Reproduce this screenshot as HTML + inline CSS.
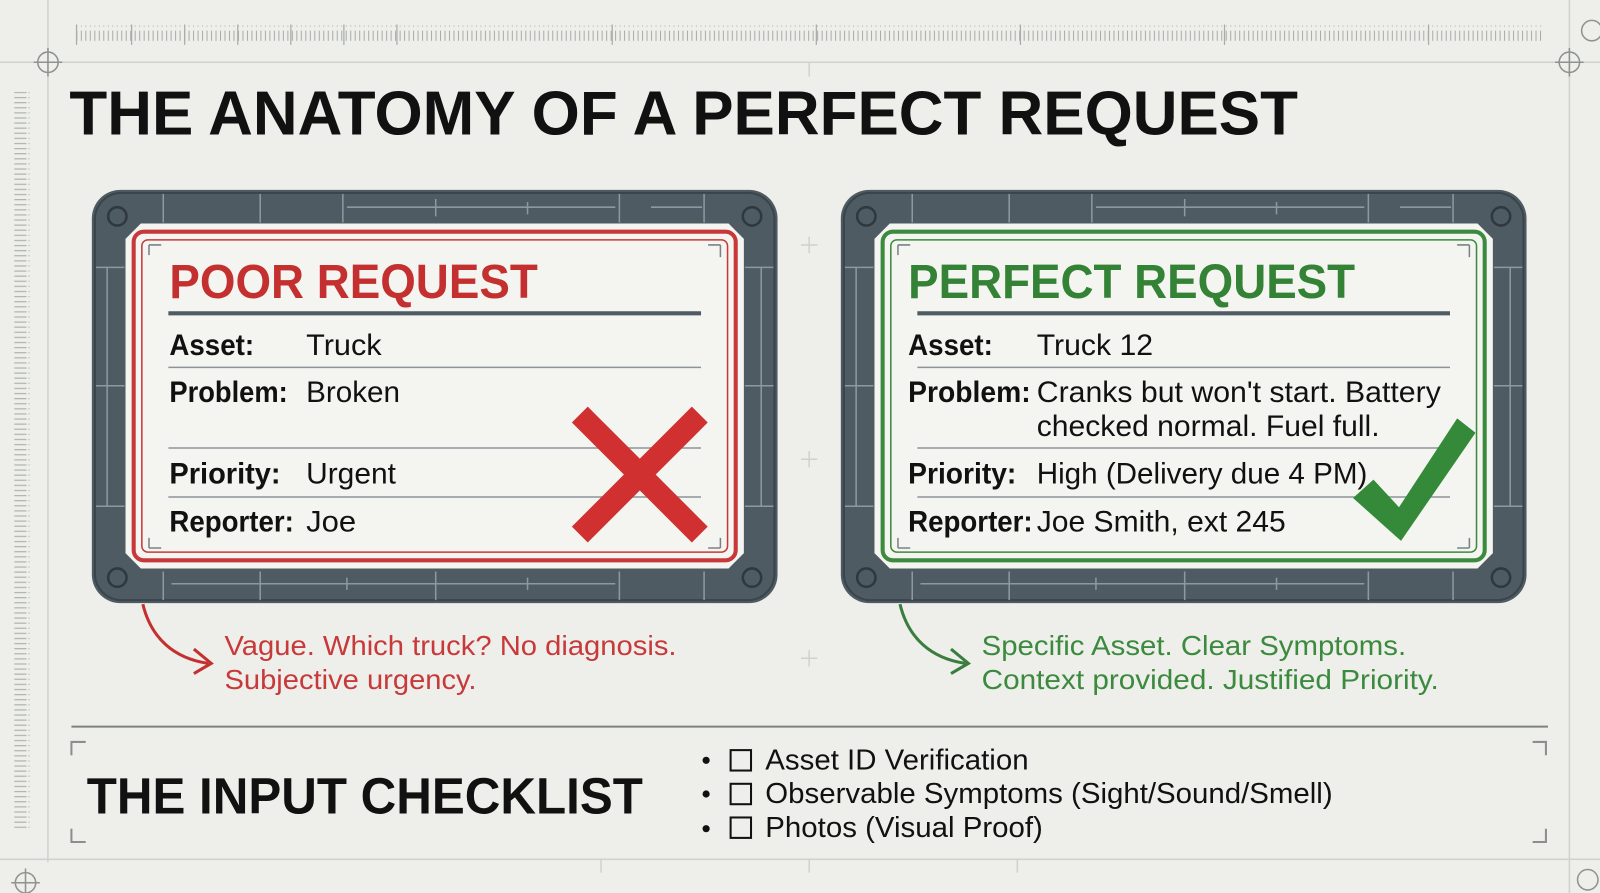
<!DOCTYPE html>
<html><head><meta charset="utf-8"><style>
html,body{margin:0;padding:0;background:#eeeeea;}
svg{display:block;}
text{font-family:"Liberation Sans",sans-serif;}
</style></head><body>
<svg width="1600" height="893" viewBox="0 0 1568 875" preserveAspectRatio="none" xmlns="http://www.w3.org/2000/svg">
<defs>
<pattern id="tk" width="4.4" height="14" patternUnits="userSpaceOnUse"><rect x="0" y="2" width="1" height="10" fill="#a8aca8"/></pattern>
<pattern id="tkv" width="14" height="5" patternUnits="userSpaceOnUse"><rect x="0" y="0" width="12" height="1.2" fill="#b0b4b0"/></pattern>
<g id="frame">
<rect x="90" y="186" width="672" height="405" rx="28" fill="#4f5b63"/>
<rect x="93" y="189" width="666" height="399" rx="26" fill="none" stroke="#3a444b" stroke-width="2"/>
<g stroke="#8d99a1" stroke-width="1.5" fill="none">
<line x1="160" y1="190" x2="160" y2="218"/><line x1="255" y1="190" x2="255" y2="218"/><line x1="336" y1="190" x2="336" y2="218"/><line x1="427" y1="195" x2="427" y2="212"/><line x1="517" y1="198" x2="517" y2="210"/><line x1="607" y1="190" x2="607" y2="218"/><line x1="690" y1="190" x2="690" y2="218"/>
<line x1="340" y1="203" x2="603" y2="203"/><line x1="638" y1="203" x2="688" y2="203"/>
<line x1="160" y1="560" x2="160" y2="588"/><line x1="255" y1="560" x2="255" y2="588"/><line x1="427" y1="560" x2="427" y2="588"/><line x1="607" y1="560" x2="607" y2="588"/><line x1="690" y1="560" x2="690" y2="588"/>
<line x1="168" y1="572" x2="603" y2="572"/><line x1="340" y1="566" x2="340" y2="578"/><line x1="517" y1="566" x2="517" y2="578"/>
<line x1="105" y1="262" x2="105" y2="496"/><line x1="746" y1="262" x2="746" y2="496"/>
<line x1="94" y1="262" x2="122" y2="262"/><line x1="94" y1="378" x2="122" y2="378"/><line x1="94" y1="496" x2="122" y2="496"/>
<line x1="730" y1="262" x2="758" y2="262"/><line x1="730" y1="378" x2="758" y2="378"/><line x1="730" y1="496" x2="758" y2="496"/>
</g>
<g stroke="#2f383f" stroke-width="2.5" fill="none">
<circle cx="115" cy="212" r="9"/><circle cx="737" cy="212" r="9"/><circle cx="115" cy="566" r="9"/><circle cx="737" cy="566" r="9"/>
</g>
<path d="M138 219 H714 L729 234 V542 L714 557 H138 L123 542 V234 Z" fill="#f4f4f0"/>
<path d="M146 240 V250 M146 240 H158 M706 240 H694 M706 240 V252 M146 537 V527 M146 537 H158 M706 537 H694 M706 537 V527" stroke="#7a8288" stroke-width="1.5" fill="none"/>
<line x1="165" y1="307" x2="687" y2="307" stroke="#4f5b63" stroke-width="4"/>
<g stroke="#8b9399" stroke-width="1.5"><line x1="165" y1="360" x2="687" y2="360"/><line x1="165" y1="439" x2="687" y2="439"/><line x1="165" y1="487" x2="687" y2="487"/></g>
</g>
</defs>

<!-- background guides -->
<rect x="75" y="25" width="1436" height="16" fill="url(#tk)"/>
<g stroke="#a8aca8" stroke-width="1.2">
<line x1="75" y1="24" x2="75" y2="44"/><line x1="129" y1="24" x2="129" y2="44"/><line x1="181" y1="24" x2="181" y2="44"/><line x1="233" y1="24" x2="233" y2="44"/><line x1="285" y1="24" x2="285" y2="44"/><line x1="337" y1="24" x2="337" y2="44"/><line x1="389" y1="24" x2="389" y2="44"/><line x1="600" y1="24" x2="600" y2="44"/><line x1="800" y1="24" x2="800" y2="44"/><line x1="1000" y1="24" x2="1000" y2="44"/><line x1="1200" y1="24" x2="1200" y2="44"/><line x1="1400" y1="24" x2="1400" y2="44"/>
</g>
<rect x="13" y="90" width="16" height="722" fill="url(#tkv)"/>
<g stroke="#cfd2ce" stroke-width="1.5" fill="none">
<line x1="0" y1="61" x2="1568" y2="61"/>
<line x1="47" y1="0" x2="47" y2="845"/>
<line x1="1538" y1="0" x2="1538" y2="875"/>
<line x1="0" y1="842" x2="1568" y2="842"/>
<line x1="793" y1="61" x2="793" y2="75"/><line x1="589" y1="842" x2="589" y2="855"/><line x1="793" y1="842" x2="793" y2="855"/><line x1="997" y1="842" x2="997" y2="855"/>
<line x1="785" y1="240" x2="801" y2="240"/><line x1="793" y1="232" x2="793" y2="248"/>
<line x1="785" y1="450" x2="801" y2="450"/><line x1="793" y1="442" x2="793" y2="458"/>
<line x1="785" y1="645" x2="801" y2="645"/><line x1="793" y1="637" x2="793" y2="653"/>
</g>
<g stroke="#8f938f" stroke-width="1.5" fill="none">
<circle cx="47" cy="61" r="10"/><line x1="33" y1="61" x2="61" y2="61"/><line x1="47" y1="47" x2="47" y2="75"/>
<circle cx="1538" cy="61" r="10"/><line x1="1524" y1="61" x2="1552" y2="61"/><line x1="1538" y1="47" x2="1538" y2="75"/>
<circle cx="25" cy="865" r="10"/><line x1="11" y1="865" x2="39" y2="865"/><line x1="25" y1="851" x2="25" y2="875"/>
<circle cx="1560" cy="30" r="10"/><circle cx="1556" cy="862" r="10"/>
</g>

<text x="68" y="132" font-size="61" font-weight="bold" fill="#111" textLength="1204" lengthAdjust="spacingAndGlyphs">THE ANATOMY OF A PERFECT REQUEST</text>

<!-- left card -->
<use href="#frame"/>
<rect x="131" y="227" width="590" height="322" rx="10" fill="none" stroke="#c8383a" stroke-width="4"/>
<rect x="139" y="235" width="574" height="306" rx="6" fill="none" stroke="#c8383a" stroke-width="1.5"/>
<text x="166" y="292" font-size="47" font-weight="bold" fill="#c3302f" textLength="361" lengthAdjust="spacingAndGlyphs">POOR REQUEST</text>
<g font-size="29" fill="#111">
<text x="166" y="348" font-weight="bold" textLength="83" lengthAdjust="spacingAndGlyphs">Asset:</text>
<text x="300" y="348" textLength="74" lengthAdjust="spacingAndGlyphs">Truck</text>
<text x="166" y="394" font-weight="bold" textLength="116" lengthAdjust="spacingAndGlyphs">Problem:</text>
<text x="300" y="394" textLength="92" lengthAdjust="spacingAndGlyphs">Broken</text>
<text x="166" y="474" font-weight="bold" textLength="109" lengthAdjust="spacingAndGlyphs">Priority:</text>
<text x="300" y="474" textLength="88" lengthAdjust="spacingAndGlyphs">Urgent</text>
<text x="166" y="521" font-weight="bold" textLength="122" lengthAdjust="spacingAndGlyphs">Reporter:</text>
<text x="300" y="521" textLength="49" lengthAdjust="spacingAndGlyphs">Joe</text>
</g>
<g stroke="#d0302f" stroke-width="22" stroke-linecap="square">
<line x1="576" y1="414" x2="678" y2="516"/><line x1="678" y1="414" x2="576" y2="516"/>
</g>

<!-- right card -->
<g transform="translate(734,0)"><use href="#frame"/></g>
<rect x="865" y="227" width="590" height="322" rx="10" fill="none" stroke="#3b8a3e" stroke-width="4"/>
<rect x="873" y="235" width="574" height="306" rx="6" fill="none" stroke="#3b8a3e" stroke-width="1.5"/>
<text x="890" y="292" font-size="47" font-weight="bold" fill="#338236" textLength="438" lengthAdjust="spacingAndGlyphs">PERFECT REQUEST</text>
<g font-size="29" fill="#111">
<text x="890" y="348" font-weight="bold" textLength="83" lengthAdjust="spacingAndGlyphs">Asset:</text>
<text x="1016" y="348" textLength="114" lengthAdjust="spacingAndGlyphs">Truck 12</text>
<text x="890" y="394" font-weight="bold" textLength="120" lengthAdjust="spacingAndGlyphs">Problem:</text>
<text x="1016" y="394" textLength="396" lengthAdjust="spacingAndGlyphs">Cranks but won't start. Battery</text>
<text x="1016" y="427" textLength="336" lengthAdjust="spacingAndGlyphs">checked normal. Fuel full.</text>
<text x="890" y="474" font-weight="bold" textLength="106" lengthAdjust="spacingAndGlyphs">Priority:</text>
<text x="1016" y="474" textLength="324" lengthAdjust="spacingAndGlyphs">High (Delivery due 4 PM)</text>
<text x="890" y="521" font-weight="bold" textLength="122" lengthAdjust="spacingAndGlyphs">Reporter:</text>
<text x="1016" y="521" textLength="244" lengthAdjust="spacingAndGlyphs">Joe Smith, ext 245</text>
</g>
<path d="M1326 488 L1346 470 L1371 497 L1428 410 L1446 424 L1373 530 Z" fill="#348a38"/>

<!-- annotations -->
<path d="M140 592 C148 625 170 645 204 650" stroke="#c3302f" stroke-width="3" fill="none"/>
<path d="M190 636 L207 650 L190 660" stroke="#c3302f" stroke-width="3" fill="none"/>
<text x="220" y="642" font-size="27" fill="#c8393a" textLength="443" lengthAdjust="spacingAndGlyphs">Vague. Which truck? No diagnosis.</text>
<text x="220" y="675" font-size="27" fill="#c8393a" textLength="247" lengthAdjust="spacingAndGlyphs">Subjective urgency.</text>
<path d="M882 592 C890 625 912 645 946 650" stroke="#3b7d3e" stroke-width="3" fill="none"/>
<path d="M932 636 L949 650 L932 660" stroke="#3b7d3e" stroke-width="3" fill="none"/>
<text x="962" y="642" font-size="27" fill="#3b8a3e" textLength="416" lengthAdjust="spacingAndGlyphs">Specific Asset. Clear Symptoms.</text>
<text x="962" y="675" font-size="27" fill="#3b8a3e" textLength="448" lengthAdjust="spacingAndGlyphs">Context provided. Justified Priority.</text>

<!-- checklist -->
<line x1="70" y1="712" x2="1517" y2="712" stroke="#7d8480" stroke-width="2"/>
<path d="M70 740 V727 H84 M1502 727 H1515 V740 M70 812 V825 H84 M1502 825 H1515 V812" stroke="#8a8f8b" stroke-width="2" fill="none"/>
<text x="85" y="797" font-size="50" font-weight="bold" fill="#111" textLength="545" lengthAdjust="spacingAndGlyphs">THE INPUT CHECKLIST</text>
<g fill="#111"><circle cx="692" cy="745" r="3.5"/><circle cx="692" cy="778" r="3.5"/><circle cx="692" cy="812" r="3.5"/></g>
<g fill="none" stroke="#111" stroke-width="2"><rect x="716" y="735" width="20" height="20"/><rect x="716" y="768" width="20" height="20"/><rect x="716" y="801" width="20" height="20"/></g>
<g font-size="28" fill="#111">
<text x="750" y="754" textLength="258" lengthAdjust="spacingAndGlyphs">Asset ID Verification</text>
<text x="750" y="787" textLength="556" lengthAdjust="spacingAndGlyphs">Observable Symptoms (Sight/Sound/Smell)</text>
<text x="750" y="820" textLength="272" lengthAdjust="spacingAndGlyphs">Photos (Visual Proof)</text>
</g>
</svg>
</body></html>
